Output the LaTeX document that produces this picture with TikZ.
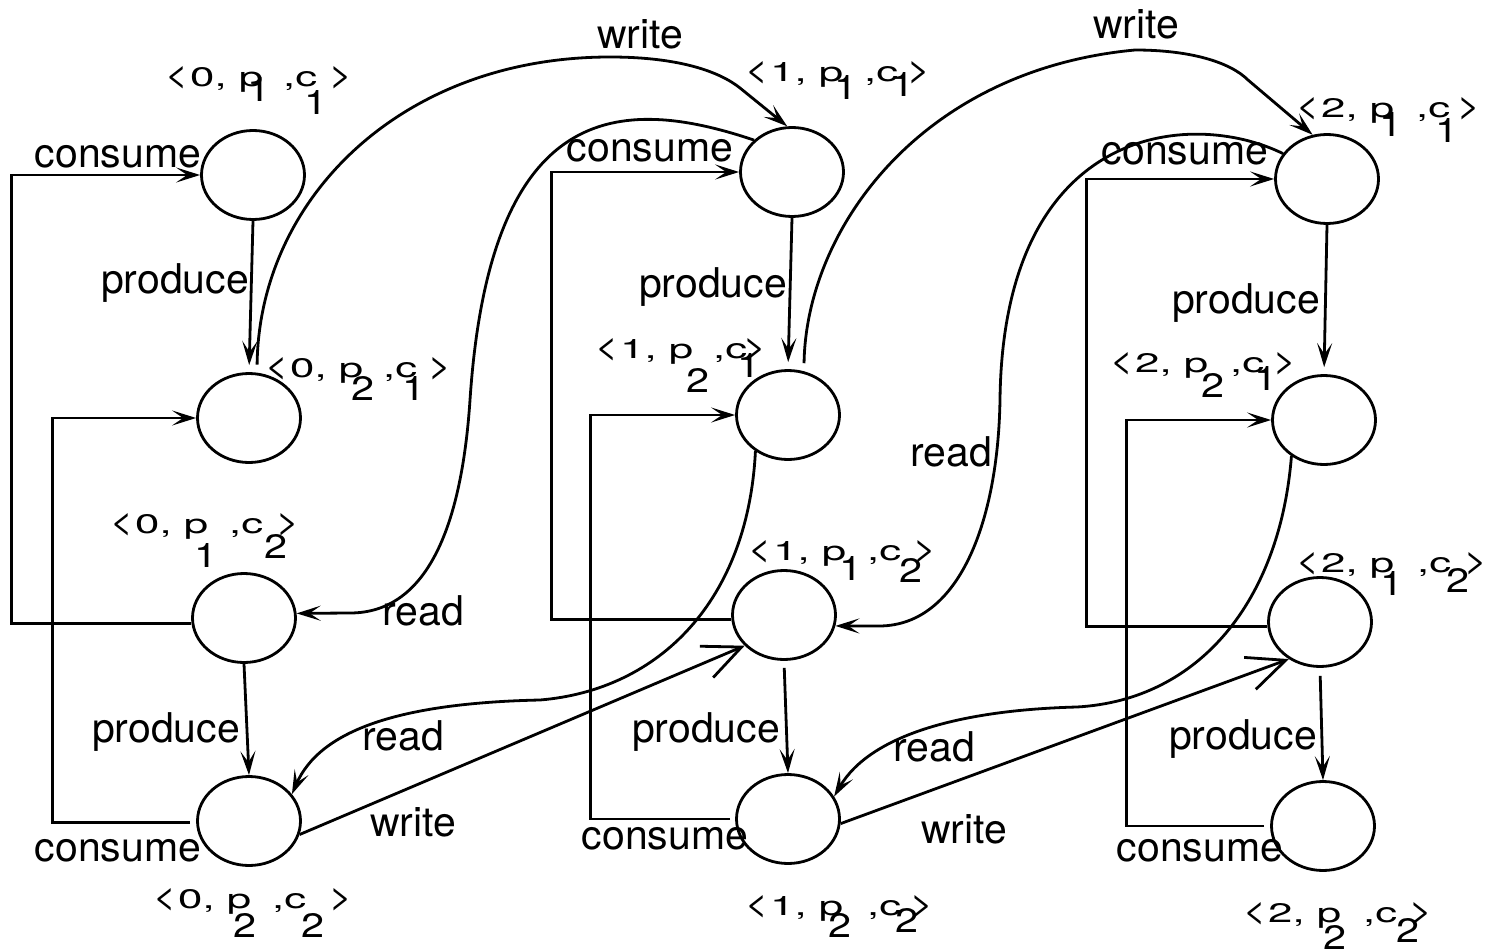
\documentclass[tikz,border=0pt]{standalone}
\usepackage{fontspec}
\usepackage{graphicx}
\setmainfont{TeX Gyre Heros}
\usetikzlibrary{arrows.meta,shapes.geometric}
\newcommand\LA{\resizebox{23pt}{20pt}{<}\kern2pt}
\newcommand\RA{\resizebox{23pt}{20pt}{>}}
\newcommand\MA[1]{\resizebox{73pt}{19pt}{#1}}
\newcommand\MC{\resizebox{34pt}{15pt}{,c}}
\newcommand\SB[2]{\raisebox{#1pt}{\resizebox{23pt}{24pt}{#2}}}
\tikzset{
  ln/.style={line width=2.8pt},
  arr/.style={ln, -{Stealth[length=24pt,width=15pt,inset=11pt]}},
  barb/.style={ln, -{Straight Barb[length=38pt,width=34pt]}},
  st/.style={draw, ellipse, line width=2.8pt, minimum width=103pt, minimum height=89pt, inner sep=0pt},
  lbl/.style={font=\fontsize{41}{41}\selectfont, inner sep=0pt},
  stl/.style={inner sep=0pt, anchor=base west},
}
\begin{document}
\begin{tikzpicture}[x=1pt,y=-1pt]
\useasboundingbox[fill=white] (0,0) rectangle (1494,952);
% states
\node[st] (A1) at (253,175) {};
\node[st] (A2) at (249,418) {};
\node[st] (A3) at (244,618) {};
\node[st] (A4) at (249,821) {};
\node[st] (B1) at (792,172) {};
\node[st] (B2) at (788,415) {};
\node[st] (B3) at (784,615) {};
\node[st] (B4) at (788,819) {};
\node[st] (C1) at (1327,179) {};
\node[st] (C2) at (1324,420) {};
\node[st] (C3) at (1320,622) {};
\node[st] (C4) at (1323,826) {};
% state labels
\node[stl] (lA1) at (165,87) {\LA\MA{0, p}\kern-16pt\SB{-15}{1}\kern13pt\MC\kern-13pt\SB{-28}{1}\kern2pt\RA};
\node[stl] (lA2) at (265,377) {\LA\MA{0, p}\kern-12pt\SB{-23}{2}\kern9pt\MC\kern-15pt\SB{-23}{1}\kern3pt\RA};
\node[stl] (lA3) at (110,533) {\LA\MA{0, p}\kern-14pt\SB{-34}{1}\kern12pt\MC\kern1pt\SB{-25}{2}\kern-11pt\RA};
\node[stl] (lA4) at (153,908) {\LA\MA{0, p}\kern-18pt\SB{-29}{2}\kern16pt\MC\kern-5pt\SB{-29}{2}\kern5pt\RA};
\node[stl] (lB1) at (745,82) {\LA\MA{1, p}\kern-9pt\SB{-18}{1}\kern7pt\MC\kern-7pt\SB{-15}{1}\kern-7pt\RA};
\node[stl] (lB2) at (595,358) {\LA\MA{1, p}\kern-7pt\SB{-34}{2}\kern4pt\MC\kern-10pt\SB{-19}{1}\kern-17pt\RA};
\node[stl] (lB3) at (748,560) {\LA\MA{1, p}\kern-7pt\SB{-20}{1}\kern5pt\MC\kern-2pt\SB{-22}{2}\kern-9pt\RA};
\node[stl] (lB4) at (745,915) {\LA\MA{1, p}\kern-15pt\SB{-22}{2}\kern16pt\MC\kern-6pt\SB{-17}{2}\kern-8pt\RA};
\node[stl] (lC1) at (1296,118) {\LA\MA{2, p}\kern-15pt\SB{-19}{1}\kern14pt\MC\kern-15pt\SB{-25}{1}\kern-1pt\RA};
\node[stl] (lC2) at (1110,372) {\LA\MA{2, p}\kern-7pt\SB{-25}{2}\kern6pt\MC\kern-10pt\SB{-18}{1}\kern-4pt\RA};
\node[stl] (lC3) at (1296,572) {\LA\MA{2, p}\kern-14pt\SB{-23}{1}\kern14pt\MC\kern-5pt\SB{-20}{2}\kern-5pt\RA};
\node[stl] (lC4) at (1243,922) {\LA\MA{2, p}\kern-18pt\SB{-27}{2}\kern17pt\MC\kern-1pt\SB{-20}{2}\kern-10pt\RA};
% produce
\draw[arr, shorten >=7pt] (A1.south) -- (A2.north);
\draw[arr] (A3.south) -- (A4.north);
\draw[arr, shorten >=7pt] (B1.south) -- (B2.north);
\draw[arr, shorten <=7pt] (B3.south) -- (B4.north);
\draw[arr, shorten >=7pt] (C1.south) -- (C2.north);
\draw[arr, shorten <=8pt] (C3.south) -- (C4.north);
% consume
\draw[arr] (A3.186) -- ++(-180,0) |- (A1.west);
\draw[arr, shorten <=6pt] (A4.182) -- ++(-144,0) |- (A2.west);
\draw[arr] (B3.185) -- ++(-180,0) |- (B1.west);
\draw[arr, shorten <=5pt] (B4.west) -- ++(-145,0) |- (B2.west);
\draw[arr] (C3.185) -- ++(-181,0) |- (C1.west);
\draw[arr, shorten <=6pt] (C4.west) -- ++(-144,0) |- (C2.west);
% write (upper)
\draw[arr, shorten <=8pt] (A2.80) .. controls (259,200) and (400,57) .. (610,57)
  .. controls (680,57) and (720,72) .. (740,88) -- (B1.96);
\draw[arr, shorten <=8pt] (B2.70) .. controls (806,230) and (920,70) .. (1135,50)
  .. controls (1190,50) and (1230,62) .. (1248,80) -- (C1.108);
% write (lower)
\draw[barb] (A4.-15) -- (B3.218);
\draw[barb] (B4.-5) -- (C3.230);
% read
\draw[arr] (B1.140) .. controls (620,95) and (490,100) .. (470,400)
  .. controls (462,520) and (430,613) .. (350,613) -- (A3.5);
\draw[arr] (B2.228) .. controls (748,600) and (660,690) .. (540,700)
  .. controls (400,703) and (320,730) .. (A4.32);
\draw[arr] (C1.150) .. controls (1190,108) and (1003,125) .. (1000,400)
  .. controls (998,520) and (960,625) .. (880,626) -- (B3.-12);
\draw[arr] (C2.228) .. controls (1280,600) and (1200,700) .. (1077,707)
  .. controls (960,710) and (870,735) .. (B4.26);
% transition labels
\node[lbl] (c1) at (118,157) {consume};
\node[lbl] (c2) at (118,851) {consume};
\node[lbl] (c3) at (650,151) {consume};
\node[lbl] (c4) at (665,839) {consume};
\node[lbl] (c5) at (1185,154) {consume};
\node[lbl] (c6) at (1200,851) {consume};
\node[lbl] (p1) at (175,283) {produce};
\node[lbl] (p2) at (166,732) {produce};
\node[lbl] (p3) at (713,287) {produce};
\node[lbl] (p4) at (706,732) {produce};
\node[lbl] (p5) at (1246,303) {produce};
\node[lbl] (p6) at (1243,739) {produce};
\node[lbl] (w1) at (640,34) {write};
\node[lbl] (w2) at (1136,24) {write};
\node[lbl] (w3) at (413,822) {write};
\node[lbl] (w4) at (964,829) {write};
\node[lbl] (r1) at (423,611) {read};
\node[lbl] (r2) at (403,736) {read};
\node[lbl] (r3) at (951,452) {read};
\node[lbl] (r4) at (934,747) {read};
\end{tikzpicture}
\end{document}
